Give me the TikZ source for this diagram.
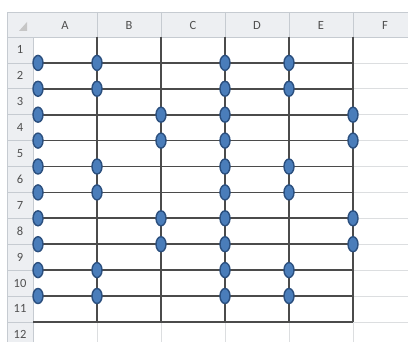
\documentclass[tikz,border=0pt]{standalone}
\usepackage{fontspec}
\setmainfont{Carlito}
\usetikzlibrary{shapes.geometric}
\definecolor{hdrfill}{HTML}{EDEFF2}
\definecolor{hdrline}{HTML}{C6CBD1}
\definecolor{hdrtext}{HTML}{4F4F4F}
\definecolor{gridlt}{HTML}{DCDEE0}
\definecolor{wirecol}{HTML}{4B4B4B}
\definecolor{dotfill}{HTML}{4A7DBA}
\definecolor{dotedge}{HTML}{2B4F7E}

\begin{document}
\begin{tikzpicture}[
  x=1pt, y=-1pt,
  hdr/.style={fill=hdrfill, draw=hdrline, line width=0.6pt},
  hlbl/.style={font=\fontsize{12.5}{14}\selectfont, text=hdrtext, inner sep=0pt},
  gridln/.style={draw=gridlt, line width=0.6pt},
  wire/.style={draw=wirecol, line width=1.7pt},
  pin/.style={ellipse, draw=dotedge, fill=dotfill, line width=1.4pt, minimum width=10pt, minimum height=15pt, inner sep=0pt}
]
  \useasboundingbox (0,0) rectangle (408,342);
  \clip (0,0) rectangle (408,342);

  % sheet headers
  \path[hdr] (7,12) rectangle (408,37);
  \path[hdr] (7,37) rectangle (33,342);
  \fill[gray!45] (19,31) -- (27,31) -- (27,22) -- cycle;
  \foreach \c [count=\i] in {A,B,C,D,E,F} {
    \draw[hdrline, line width=0.6pt] ({33+64*\i},12) -- ({33+64*\i},37);
    \node[hlbl] (col\c) at ({33+64*(\i-0.5)},25) {\c};
  }
  \foreach \r in {1,...,12} {
    \draw[hdrline, line width=0.6pt] (7,{37+25.9*\r}) -- (33,{37+25.9*\r});
    \node[hlbl] (row\r) at (20,{37+25.9*(\r-0.5)}) {\r};
  }

  % light cell grid
  \foreach \i in {1,...,5}
    \draw[gridln] ({33+64*\i},37) -- ({33+64*\i},342);
  \foreach \r in {1,...,12}
    \draw[gridln] (33,{37+25.9*\r}) -- (408,{37+25.9*\r});

  % dark wires
  \foreach \r in {1,...,11} {
    \coordinate (l\r) at (33,{37+25.9*\r});
    \coordinate (r\r) at (353,{37+25.9*\r});
    \draw[wire] (l\r) -- (r\r);
  }
  \foreach \i in {1,...,5} {
    \coordinate (t\i) at ({33+64*\i},37);
    \coordinate (b\i) at ({33+64*\i},{37+25.9*11});
    \draw[wire] (t\i) -- (b\i);
  }

  % pins
  \foreach \r/\a/\b in {1/97/289, 2/97/289, 3/161/353, 4/161/353, 5/97/289,
                        6/97/289, 7/161/353, 8/161/353, 9/97/289, 10/97/289} {
    \node[pin] (p\r a) at (38,{37+25.9*\r}) {};
    \node[pin] (p\r b) at (\a,{37+25.9*\r}) {};
    \node[pin] (p\r c) at (225,{37+25.9*\r}) {};
    \node[pin] (p\r d) at (\b,{37+25.9*\r}) {};
  }
\end{tikzpicture}
\end{document}
